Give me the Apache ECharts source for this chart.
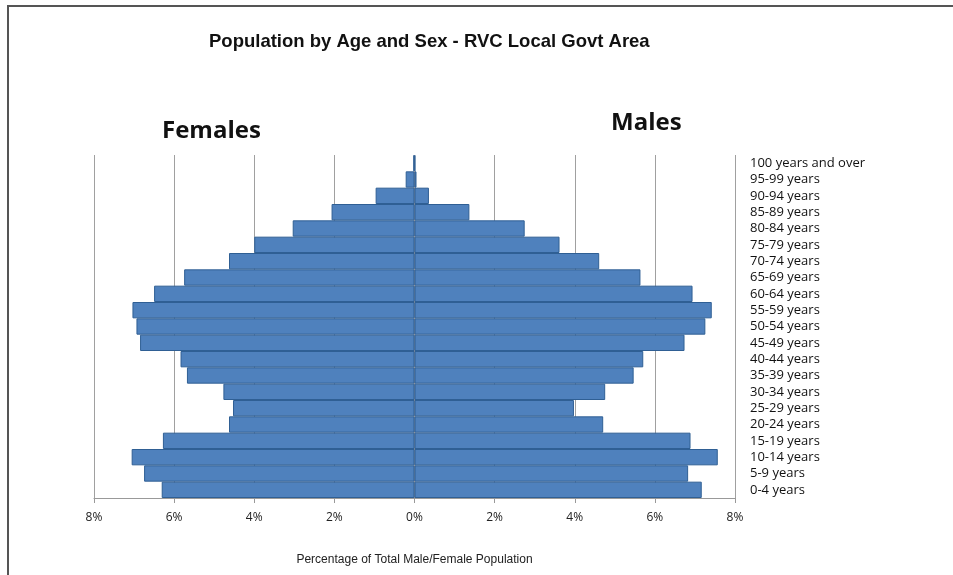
<!DOCTYPE html>
<html>
<head>
<meta charset="utf-8">
<script src="https://cdn.jsdelivr.net/npm/echarts@6/dist/echarts.min.js"></script>
<style>
  html, body { margin: 0; padding: 0; background: #fff; }
  #main { width: 953px; height: 575px; }
</style>
</head>
<body>
<div id="main"></div>
<script>
// age groups, bottom to top
var ageGroups = ['0-4 years', '5-9 years', '10-14 years', '15-19 years', '20-24 years',
    '25-29 years', '30-34 years', '35-39 years', '40-44 years', '45-49 years',
    '50-54 years', '55-59 years', '60-64 years', '65-69 years', '70-74 years',
    '75-79 years', '80-84 years', '85-89 years', '90-94 years', '95-99 years',
    '100 years and over'];
// percent of total female / male population
var females = [6.31, 6.75, 7.06, 6.28, 4.63, 4.53, 4.77, 5.68, 5.84, 6.85,
    6.94, 7.04, 6.50, 5.75, 4.63, 4.00, 3.04, 2.07, 0.97, 0.22, 0.03];
var males = [7.17, 6.83, 7.57, 6.89, 4.71, 3.98, 4.76, 5.47, 5.71, 6.74,
    7.26, 7.42, 6.94, 5.64, 4.61, 3.62, 2.75, 1.37, 0.36, 0.05, 0.02];
var xTicks = [-8, -6, -4, -2, 0, 2, 4, 6, 8];

var chart = echarts.init(document.getElementById('main'));
chart.setOption({
    animation: false,
    backgroundColor: '#fff',
    title: {
        text: 'Population by Age and Sex - RVC Local Govt Area',
        left: 204,
        top: 27,
        textStyle: {
            fontFamily: 'Liberation Sans',
            fontSize: 18.5,
            fontWeight: 'bold',
            color: '#111'
        }
    },
    graphic: [
        // frame (top + left edge only visible)
        {
            type: 'rect',
            shape: {x: 8, y: 6, width: 1000, height: 700},
            style: {fill: 'none', stroke: '#555', lineWidth: 2},
            silent: true
        },
        {
            type: 'text',
            left: 162, top: 119,
            style: {text: 'Females', font: 'bold 24px "Open Sans"', fill: '#111'}
        },
        {
            type: 'text',
            left: 611, top: 111,
            style: {text: 'Males', font: 'bold 24px "Open Sans"', fill: '#111'}
        }
    ],
    grid: {
        left: 94,
        right: 218,
        top: 155,
        bottom: 77
    },
    xAxis: {
        type: 'value',
        min: -8,
        max: 8,
        interval: 2,
        name: 'Percentage of Total Male/Female Population',
        nameLocation: 'middle',
        nameGap: 56,
        nameTextStyle: {
            fontFamily: 'Liberation Sans',
            fontSize: 12,
            color: '#222'
        },
        axisLine: {show: true, lineStyle: {color: '#999'}},
        axisTick: {show: true, length: 5, lineStyle: {color: '#999'}},
        splitLine: {show: true, lineStyle: {color: '#a0a0a0', width: 1}},
        axisLabel: {
            margin: 14,
            fontFamily: 'Open Sans',
            fontSize: 12,
            color: '#222',
            formatter: function (v) {
                return xTicks.indexOf(v) >= 0 ? Math.abs(v) + '%' : '';
            }
        }
    },
    yAxis: {
        type: 'category',
        position: 'right',
        data: ageGroups,
        axisLine: {show: false},
        axisTick: {show: false},
        axisLabel: {
            interval: 0,
            margin: 15,
            align: 'left',
            fontFamily: 'Open Sans',
            fontSize: 13,
            lineHeight: 15,
            color: '#111'
        }
    },
    series: [
        {
            name: 'Females',
            type: 'bar',
            data: females.map(function (v) { return -v; }),
            barGap: '-100%',
            barCategoryGap: 0,
            itemStyle: {color: '#4f81bd', borderColor: '#2f5f94', borderWidth: 1}
        },
        {
            name: 'Males',
            type: 'bar',
            data: males,
            barGap: '-100%',
            barCategoryGap: 0,
            itemStyle: {color: '#4f81bd', borderColor: '#2f5f94', borderWidth: 1}
        }
    ]
});
</script>
</body>
</html>
